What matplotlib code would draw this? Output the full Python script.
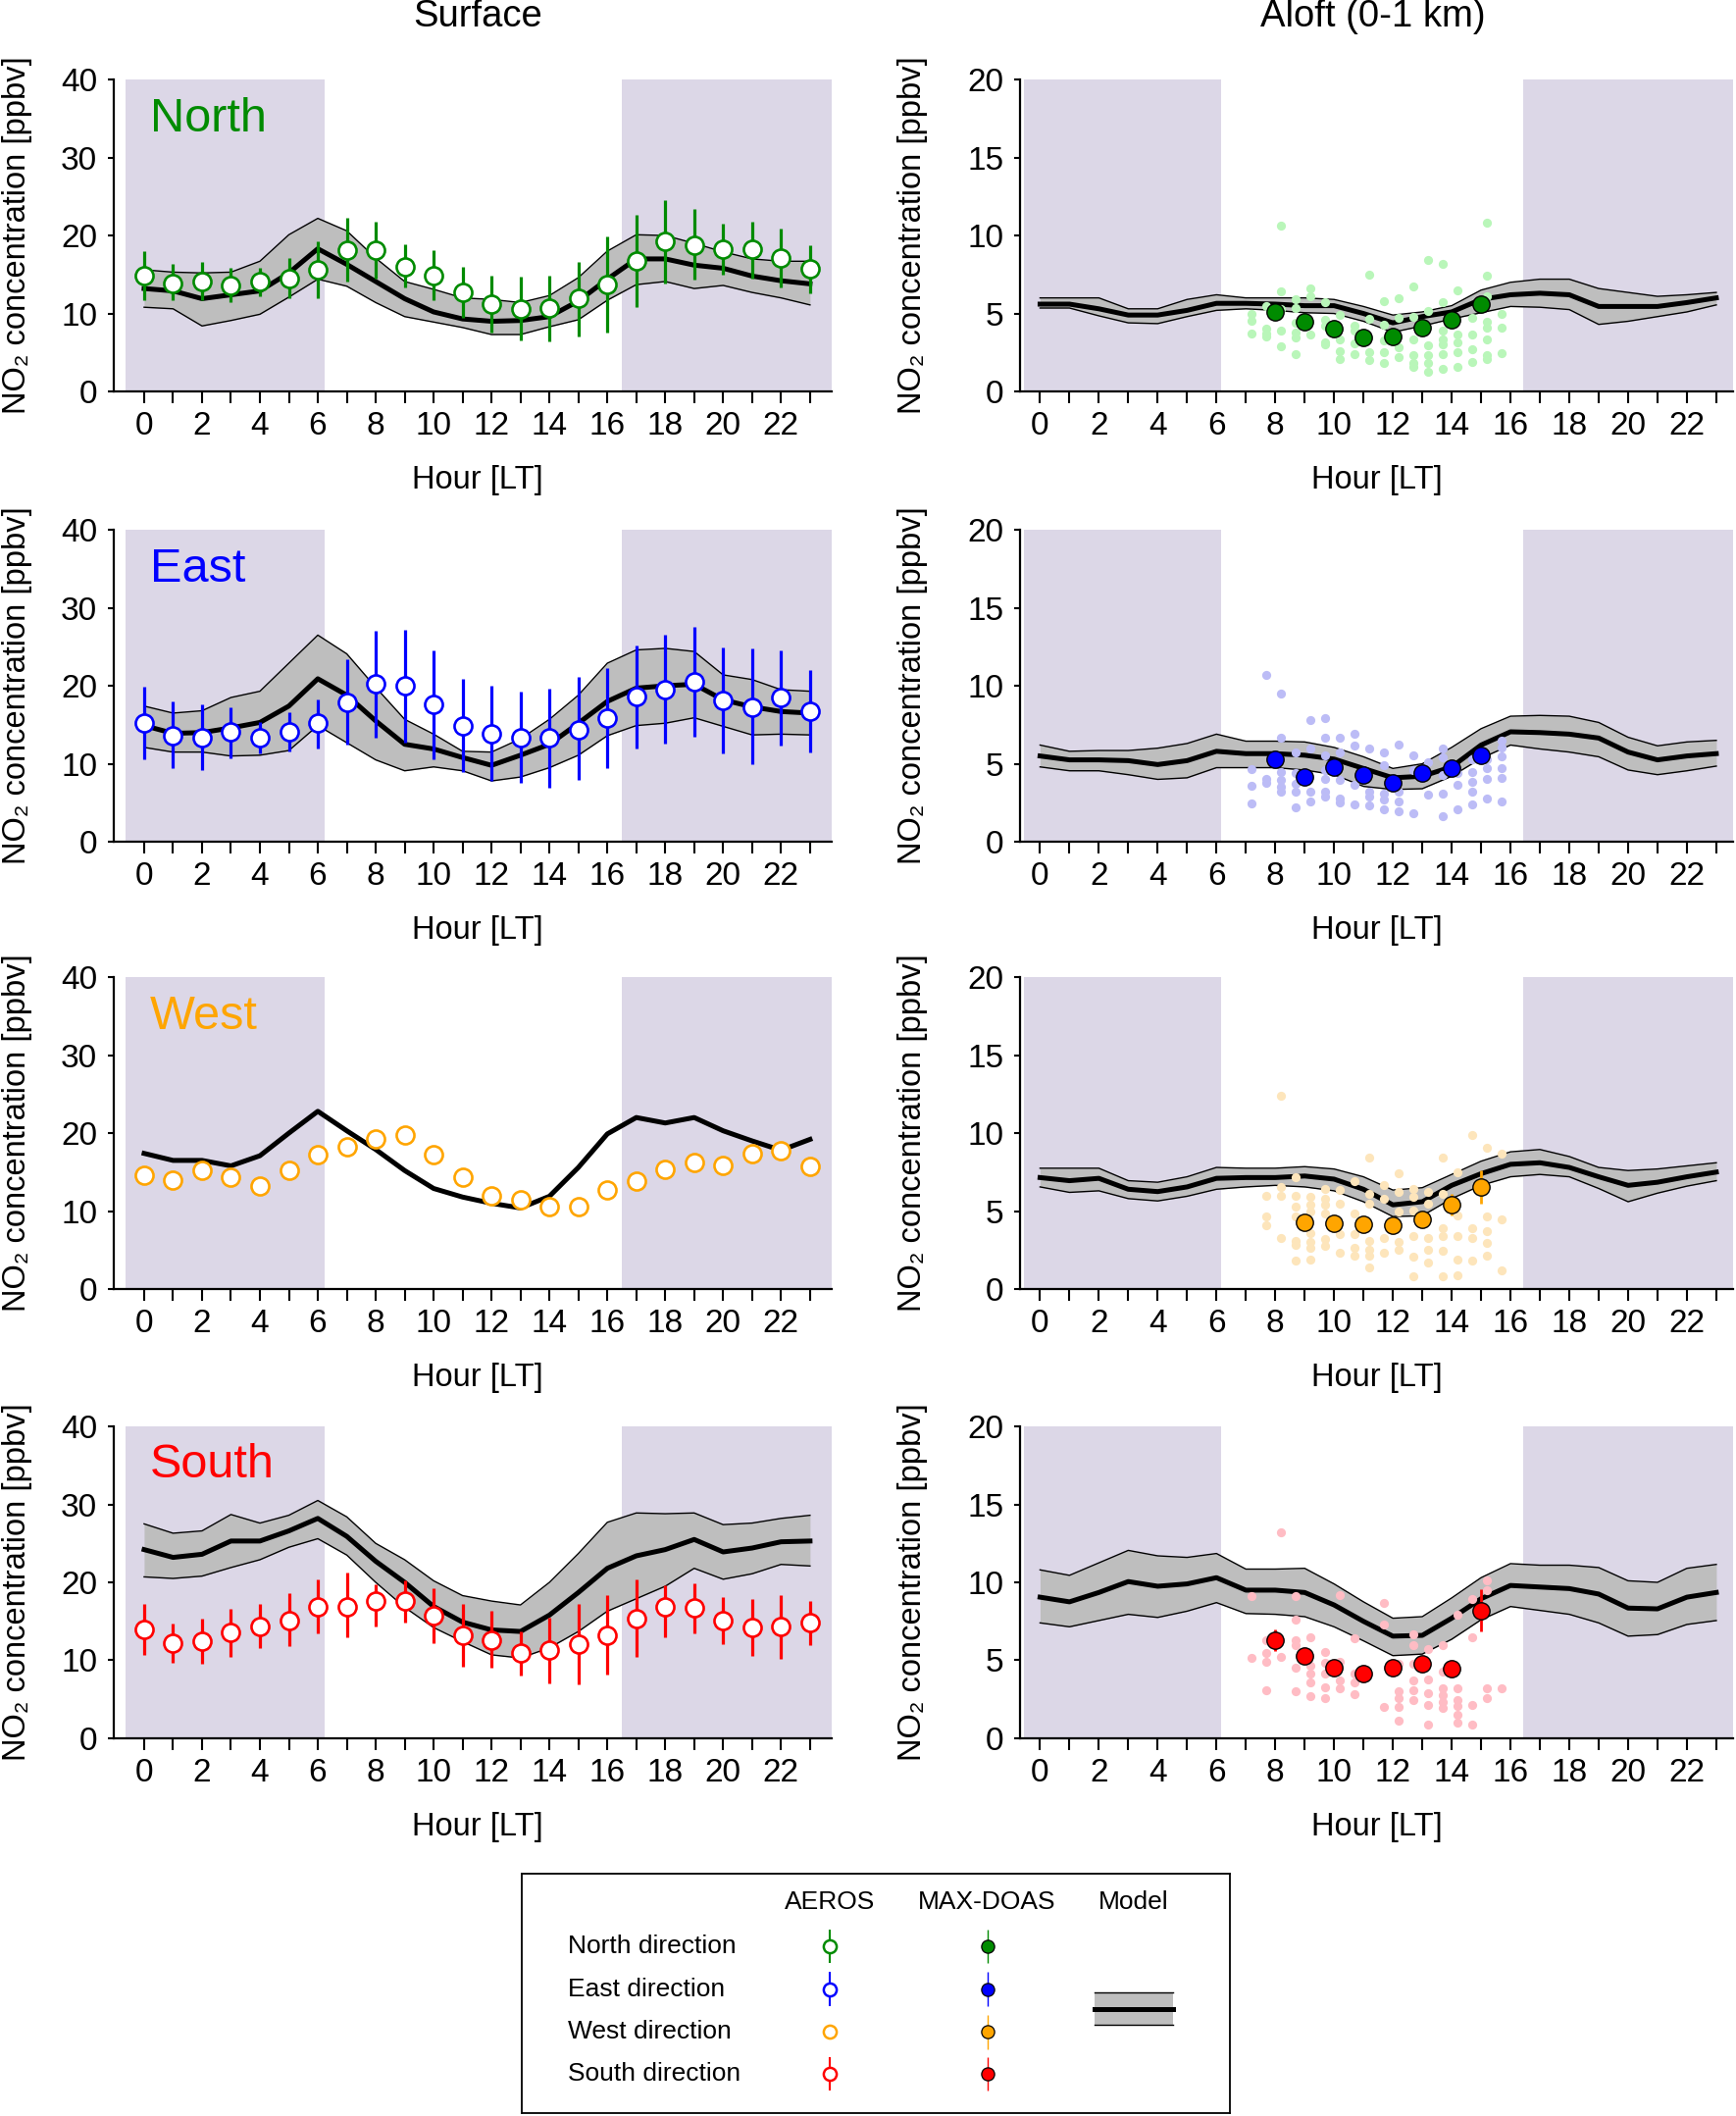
import matplotlib
matplotlib.use('Agg')
import matplotlib.pyplot as plt
import numpy as np

plt.rcParams['font.family'] = ['Liberation Sans', 'DejaVu Sans']

# ---------------- data ----------------
hours = list(range(24))
tick_labels = [str(h) if h % 2 == 0 else '' for h in hours]

# Surface: AEROS observations (mean, lower, upper)
north_aeros = [14.8, 13.9, 14.1, 13.6, 14.1, 14.5, 15.6, 18.1, 18.1, 16.0, 14.9, 12.7,
               11.2, 10.6, 10.7, 11.9, 13.7, 16.8, 19.2, 18.8, 18.3, 18.2, 17.1, 15.7]
north_aeros_lo = [11.7, 11.7, 11.7, 11.4, 12.2, 12.0, 11.9, 14.1, 14.5, 13.3, 11.7, 9.4,
                  7.6, 6.6, 6.4, 7.1, 7.6, 10.8, 13.9, 14.3, 15.0, 14.5, 13.3, 12.6]
north_aeros_hi = [18.0, 16.3, 16.6, 15.9, 15.9, 17.1, 19.2, 22.3, 21.8, 18.9, 18.1, 16.0,
                  14.9, 14.7, 14.9, 16.6, 19.9, 22.7, 24.5, 23.4, 21.5, 21.8, 20.9, 18.7]
north_sfc_model = [13.2, 12.9, 11.9, 12.4, 12.9, 15.2, 18.3, 16.3, 14.1, 11.9, 10.2, 9.3,
                   9.0, 9.1, 9.6, 11.6, 14.4, 17.0, 17.0, 16.2, 15.8, 14.8, 14.2, 13.8]
north_sfc_model_lo = [10.8, 10.6, 8.4, 9.1, 9.9, 12.1, 14.4, 13.5, 11.4, 9.6, 8.9, 8.2,
                      7.3, 7.3, 8.3, 9.2, 11.7, 13.7, 14.1, 13.2, 13.6, 12.7, 12.0, 11.1]
north_sfc_model_hi = [15.6, 15.3, 15.2, 15.3, 16.7, 20.1, 22.2, 20.6, 17.1, 14.1, 13.1, 12.0,
                      11.8, 11.4, 12.3, 14.6, 18.0, 20.1, 20.0, 19.0, 17.9, 17.0, 16.7, 16.7]

east_aeros = [15.2, 13.6, 13.4, 14.1, 13.4, 14.1, 15.2, 17.9, 20.3, 20.0, 17.6, 14.9,
              13.9, 13.4, 13.3, 14.4, 15.9, 18.6, 19.5, 20.5, 18.1, 17.3, 18.5, 16.8]
east_aeros_lo = [10.6, 9.4, 9.2, 10.7, 11.3, 11.6, 12.0, 12.5, 13.4, 12.7, 10.6, 8.9,
                 7.8, 7.6, 6.9, 7.9, 9.5, 12.0, 12.6, 13.5, 11.3, 9.9, 12.3, 11.5]
east_aeros_hi = [19.9, 18.0, 17.6, 17.3, 15.4, 16.6, 18.2, 23.4, 27.1, 27.2, 24.6, 20.9,
                 20.0, 19.2, 19.6, 21.1, 22.3, 25.2, 26.6, 27.5, 24.9, 24.8, 24.5, 22.0]
east_sfc_model = [14.9, 13.9, 14.0, 14.6, 15.3, 17.4, 20.9, 18.8, 15.5, 12.5, 11.9, 10.8,
                  9.8, 11.1, 12.5, 15.2, 18.0, 19.7, 20.0, 20.2, 18.2, 17.3, 16.7, 16.5]
east_sfc_model_lo = [12.1, 11.5, 11.5, 11.0, 11.1, 11.7, 14.9, 12.7, 10.5, 9.1, 9.6, 9.1,
                     7.8, 8.3, 9.5, 11.1, 13.6, 14.9, 15.2, 15.9, 14.8, 13.7, 13.8, 13.7]
east_sfc_model_hi = [17.4, 16.5, 16.8, 18.5, 19.3, 22.9, 26.5, 24.1, 19.8, 15.7, 13.8, 11.6,
                     11.5, 13.2, 15.7, 18.8, 22.9, 24.6, 24.8, 24.4, 21.4, 20.8, 19.5, 19.3]

west_aeros = [14.6, 14.0, 15.2, 14.4, 13.2, 15.2, 17.2, 18.3, 19.2, 19.7, 17.3, 14.4,
              11.9, 11.5, 10.6, 10.6, 12.7, 13.8, 15.3, 16.2, 15.8, 17.4, 17.8, 15.7]
west_sfc_model = [17.4, 16.5, 16.5, 15.8, 17.1, 20.0, 22.8, 20.3, 17.9, 15.2, 12.9, 11.8,
                  11.0, 10.4, 11.9, 15.6, 19.9, 22.0, 21.3, 22.0, 20.3, 19.0, 17.8, 19.2]

south_aeros = [14.0, 12.2, 12.4, 13.6, 14.4, 15.1, 16.9, 16.9, 17.6, 17.6, 15.7, 13.2,
               12.6, 10.9, 11.3, 12.1, 13.2, 15.3, 16.8, 16.7, 15.1, 14.2, 14.4, 14.8]
south_aeros_lo = [10.7, 9.7, 9.5, 10.5, 11.6, 11.8, 13.4, 13.0, 14.4, 14.9, 12.2, 9.2,
                  9.0, 8.1, 7.1, 6.9, 8.2, 10.4, 12.9, 13.4, 12.1, 10.6, 10.2, 12.0]
south_aeros_hi = [17.2, 14.7, 15.4, 16.6, 17.2, 18.6, 20.4, 21.2, 19.7, 20.3, 19.2, 17.2,
                  16.3, 13.7, 15.5, 17.2, 18.4, 20.4, 19.6, 19.9, 18.1, 17.8, 18.4, 17.6]
south_sfc_model = [24.2, 23.2, 23.6, 25.3, 25.3, 26.6, 28.2, 25.9, 22.7, 20.0, 16.9, 14.9,
                   13.9, 13.7, 15.8, 18.7, 21.8, 23.4, 24.2, 25.5, 23.9, 24.4, 25.2, 25.3]
south_sfc_model_lo = [20.7, 20.5, 20.8, 21.9, 22.9, 24.5, 25.6, 23.5, 20.0, 16.8, 14.2, 12.4,
                      10.7, 10.3, 11.6, 13.7, 16.3, 17.9, 19.5, 21.8, 20.4, 21.1, 22.3, 22.1]
south_sfc_model_hi = [27.5, 26.3, 26.6, 28.7, 27.6, 28.6, 30.5, 28.4, 25.0, 22.9, 20.2, 18.3,
                      17.6, 17.1, 20.0, 23.7, 27.7, 28.9, 28.8, 28.9, 27.4, 27.6, 28.2, 28.6]

# Aloft: model (mean, lower, upper)
north_alo_model = [5.6, 5.6, 5.3, 4.9, 4.9, 5.2, 5.65, 5.65, 5.6, 5.5, 5.5, 5.0,
                   4.4, 4.8, 5.1, 5.9, 6.2, 6.3, 6.2, 5.45, 5.45, 5.45, 5.7, 6.0]
north_alo_model_lo = [5.35, 5.35, 4.85, 4.4, 4.35, 4.8, 5.2, 5.3, 5.2, 5.05, 5.0, 4.5,
                      3.8, 4.2, 4.65, 5.05, 5.45, 5.4, 5.25, 4.3, 4.5, 4.8, 5.1, 5.55]
north_alo_model_hi = [6.0, 6.0, 6.0, 5.3, 5.3, 5.9, 6.2, 6.0, 6.0, 6.0, 5.9, 5.45,
                      4.9, 5.1, 5.5, 6.5, 7.0, 7.2, 7.2, 6.6, 6.35, 6.1, 6.2, 6.35]
east_alo_model = [5.5, 5.25, 5.25, 5.2, 4.95, 5.2, 5.8, 5.65, 5.65, 5.55, 5.3, 4.7,
                  4.1, 4.2, 4.8, 6.2, 7.05, 7.0, 6.9, 6.65, 5.75, 5.25, 5.5, 5.65]
east_alo_model_lo = [4.8, 4.55, 4.55, 4.3, 4.0, 4.1, 4.75, 4.75, 4.75, 4.6, 4.3, 3.55,
                     3.35, 3.4, 4.2, 5.35, 6.2, 5.95, 5.75, 5.45, 4.6, 4.3, 4.55, 4.85]
east_alo_model_hi = [6.2, 5.8, 5.85, 5.85, 6.0, 6.3, 6.9, 6.45, 6.45, 6.4, 6.05, 5.45,
                     4.7, 5.0, 6.05, 7.25, 8.05, 8.1, 8.05, 7.65, 6.7, 6.15, 6.4, 6.5]
west_alo_model = [7.15, 6.95, 7.1, 6.4, 6.25, 6.55, 7.1, 7.15, 7.15, 7.25, 7.05, 6.4,
                  5.4, 5.6, 6.65, 7.4, 8.0, 8.1, 7.8, 7.2, 6.65, 6.85, 7.2, 7.5]
west_alo_model_lo = [6.55, 6.2, 6.3, 5.8, 5.65, 5.95, 6.4, 6.55, 6.65, 6.55, 6.3, 5.6,
                     4.65, 4.7, 5.8, 6.65, 7.2, 7.35, 7.2, 6.45, 5.6, 6.15, 6.6, 6.95]
west_alo_model_hi = [7.75, 7.75, 7.75, 6.95, 6.85, 7.2, 7.8, 7.75, 7.75, 7.85, 7.7, 7.2,
                     6.35, 6.5, 7.35, 8.2, 8.8, 8.95, 8.5, 7.8, 7.6, 7.7, 7.9, 8.1]
south_alo_model = [9.05, 8.75, 9.35, 10.05, 9.75, 9.9, 10.3, 9.5, 9.5, 9.35, 8.55, 7.5,
                   6.55, 6.6, 7.7, 8.95, 9.8, 9.7, 9.6, 9.25, 8.35, 8.3, 9.05, 9.35]
south_alo_model_lo = [7.4, 7.15, 7.55, 7.95, 7.75, 8.15, 8.7, 8.0, 7.95, 7.8, 7.15, 6.25,
                      5.3, 5.4, 6.35, 7.6, 8.45, 8.2, 7.95, 7.4, 6.55, 6.65, 7.3, 7.55]
south_alo_model_hi = [10.8, 10.45, 11.25, 12.05, 11.7, 11.6, 11.85, 10.85, 10.85, 10.9, 9.9, 8.75,
                      7.7, 7.8, 9.0, 10.3, 11.2, 11.1, 11.1, 10.95, 10.1, 10.0, 10.9, 11.15]

# Aloft: MAX-DOAS hourly means and error half-widths
north_doas_hours = [8, 9, 10, 11, 12, 13, 14, 15]
north_doas = [5.1, 4.5, 4.03, 3.46, 3.5, 4.09, 4.57, 5.62]
north_doas_err = [0.3, 0.3, 0.3, 0.3, 0.3, 0.3, 0.3, 0.4]
east_doas_hours = [8, 9, 10, 11, 12, 13, 14, 15]
east_doas = [5.26, 4.17, 4.8, 4.28, 3.8, 4.42, 4.74, 5.53]
east_doas_err = [0.4, 0.3, 0.3, 0.3, 0.3, 0.3, 0.3, 0.3]
west_doas_hours = [9, 10, 11, 12, 13, 14, 15]
west_doas = [4.3, 4.23, 4.17, 4.09, 4.44, 5.39, 6.54]
west_doas_err = [0.3, 0.3, 0.3, 0.3, 0.3, 0.7, 1.05]
south_doas_hours = [8, 9, 10, 11, 12, 13, 14, 15]
south_doas = [6.3, 5.3, 4.5, 4.15, 4.5, 4.8, 4.45, 8.2]
south_doas_err = [0.7, 0.3, 0.3, 0.3, 0.3, 0.4, 0.3, 1.35]

# Aloft: individual MAX-DOAS retrievals (half-hour columns)
doas_times = [7.2, 7.7, 8.2, 8.7, 9.2, 9.7, 10.2, 10.7, 11.2,
              11.7, 12.2, 12.7, 13.2, 13.7, 14.2, 14.7, 15.2, 15.7]
north_doas_pts = [
    [5.0, 4.55, 3.7], [5.45, 4.0, 3.7, 3.5], [10.65, 6.4, 5.3, 3.9, 2.9],
    [5.9, 5.35, 4.4, 3.8, 3.45, 2.4], [6.6, 6.1, 3.65], [5.75, 4.6, 4.2, 3.15, 3.0],
    [4.9, 3.35, 2.6, 2.1], [4.2, 3.9, 3.1, 2.4], [7.5, 4.65, 2.5, 2.0],
    [5.8, 4.3, 3.25, 2.5, 1.8], [6.0, 4.7, 2.85, 2.2], [6.75, 4.8, 3.35, 2.3, 1.8, 1.55],
    [8.45, 5.15, 2.95, 2.3, 1.8, 1.25], [8.2, 5.75, 3.9, 3.35, 3.05, 2.4, 1.45],
    [6.5, 3.65, 3.15, 2.5, 1.55], [4.7, 3.65, 2.7, 1.9],
    [10.8, 7.45, 6.1, 4.5, 4.1, 3.35, 2.35, 2.1], [5.0, 4.1, 2.45]]
east_doas_pts = [
    [4.65, 3.6, 2.45], [10.67, 4.05, 3.8], [9.5, 6.7, 4.5, 3.95, 3.55, 3.2],
    [5.75, 4.4, 3.7, 3.2, 2.2], [7.8, 5.95, 3.2, 2.6], [7.95, 6.7, 5.55, 4.6, 4.05, 3.2, 2.9],
    [6.7, 5.75, 3.95, 2.8, 2.5], [6.9, 6.15, 3.65, 2.4], [5.95, 3.2, 2.9, 2.3],
    [5.75, 4.9, 3.1, 2.7, 2.05], [6.2, 3.2, 2.6, 1.95], [5.55, 4.6, 1.85],
    [5.1, 3.0], [5.95, 5.4, 4.3, 3.1, 1.65], [4.4, 3.65, 2.05],
    [5.3, 4.5, 3.85, 3.2, 2.4], [5.3, 4.7, 4.05, 2.75], [6.5, 6.05, 5.45, 4.75, 4.1, 2.6]]
west_doas_pts = [
    [], [6.0, 4.65, 4.1], [12.4, 6.55, 6.0, 3.25],
    [7.15, 6.0, 5.3, 4.65, 3.1, 2.85, 1.8], [5.9, 5.4, 4.95, 3.6, 3.05, 2.65, 1.9],
    [6.45, 5.8, 5.4, 4.85, 3.2, 2.75], [6.35, 5.5, 3.5, 2.35], [6.95, 4.85, 3.5, 2.65, 2.15],
    [8.45, 6.1, 5.5, 3.1, 2.55, 2.15, 1.4], [6.65, 5.8, 3.3, 2.35], [7.4, 6.25, 4.95, 3.0, 2.55],
    [6.45, 5.9, 5.05, 3.4, 2.05, 0.8], [6.25, 5.5, 3.3, 2.55, 1.7], [8.45, 6.1, 3.9, 3.4, 2.45, 0.8],
    [7.5, 4.75, 3.4, 1.9, 0.9], [9.9, 3.9, 3.3, 1.8], [9.05, 4.65, 3.7, 2.95, 2.15], [8.7, 4.45, 1.2]]
south_doas_pts = [
    [9.1, 5.15], [6.3, 5.45, 4.9, 3.1], [13.2, 5.2], [9.1, 7.6, 6.3, 5.95, 4.55, 3.0],
    [6.5, 4.65, 4.15, 3.6, 2.7], [5.55, 4.85, 4.15, 3.25, 2.6], [9.2, 4.9, 3.7, 3.2],
    [6.4, 4.15, 3.6, 2.85], [], [8.65, 7.3, 2.0], [4.8, 3.0, 2.55, 2.0, 1.15],
    [6.65, 6.0, 4.75, 3.7, 3.05, 2.45], [5.7, 3.75, 2.9, 2.15, 0.9],
    [5.95, 4.25, 3.2, 2.75, 2.35, 1.95], [7.95, 3.2, 2.45, 2.05, 1.5, 1.0],
    [8.95, 6.5, 2.15, 0.9], [10.1, 9.5, 3.2, 2.55], [3.2]]

directions = ['North', 'East', 'West', 'South']
dir_colors = ['#008b00', '#0000ff', '#ffa500', '#ff0000']
light_colors = ['#b9f6b9', '#bcbcf6', '#fde5bb', '#ffbcc4']

# ---------------- style ----------------
NIGHT = '#dcd7e7'
BAND = '#bebebe'
TFS = 24      # tick labels
LABFS = 23.5  # axis labels

fig = plt.figure(figsize=(17.7, 21.57), dpi=100)

row_bottoms = [0.815, 0.6022, 0.3908, 0.1785]
H = 0.1474
LEFT = (0.0655, 0.4136)
RIGHT = (0.5876, 0.4107)


def style_axes(ax, yticks, xlim):
    ax.set_xlim(*xlim)
    ax.set_ylim(yticks[0], yticks[-1])
    for s in ['top', 'right']:
        ax.spines[s].set_visible(False)
    for s in ['left', 'bottom']:
        ax.spines[s].set_linewidth(1.6)
    ax.set_xticks(hours)
    ax.set_xticklabels(tick_labels)
    ax.set_yticks(yticks)
    ax.tick_params(axis='x', direction='out', length=8.6, width=1.5, pad=6, labelsize=TFS)
    ax.tick_params(axis='y', direction='out', length=4, width=1.5, pad=8, labelsize=TFS)
    ax.set_xlabel('Hour [LT]', fontsize=LABFS)
    ax.set_ylabel('NO\u2082 concentration [ppbv]', fontsize=LABFS)


surface_data = [
    (north_aeros, north_aeros_lo, north_aeros_hi, north_sfc_model, north_sfc_model_lo, north_sfc_model_hi),
    (east_aeros, east_aeros_lo, east_aeros_hi, east_sfc_model, east_sfc_model_lo, east_sfc_model_hi),
    (west_aeros, None, None, west_sfc_model, None, None),
    (south_aeros, south_aeros_lo, south_aeros_hi, south_sfc_model, south_sfc_model_lo, south_sfc_model_hi),
]
aloft_data = [
    (north_alo_model, north_alo_model_lo, north_alo_model_hi, north_doas_hours, north_doas, north_doas_err, north_doas_pts),
    (east_alo_model, east_alo_model_lo, east_alo_model_hi, east_doas_hours, east_doas, east_doas_err, east_doas_pts),
    (west_alo_model, west_alo_model_lo, west_alo_model_hi, west_doas_hours, west_doas, west_doas_err, west_doas_pts),
    (south_alo_model, south_alo_model_lo, south_alo_model_hi, south_doas_hours, south_doas, south_doas_err, south_doas_pts),
]

for i in range(4):
    col = dir_colors[i]
    # ---- surface ----
    ax = fig.add_axes([LEFT[0], row_bottoms[i], LEFT[1], H])
    xl = (-1.05, 23.75)
    style_axes(ax, [0, 10, 20, 30, 40], xl)
    ax.xaxis.set_label_coords(0.507, -0.235)
    ax.yaxis.set_label_coords(-0.113, 0.5)
    ax.axvspan(-0.63, 6.25, color=NIGHT, lw=0, zorder=0)
    ax.axvspan(16.5, xl[1], color=NIGHT, lw=0, zorder=0)
    obs, lo, hi, mod, mlo, mhi = surface_data[i]
    if mlo is not None:
        ax.fill_between(hours, mlo, mhi, color=BAND, lw=0, zorder=1)
        ax.plot(hours, mlo, color='k', lw=1.0, zorder=2)
        ax.plot(hours, mhi, color='k', lw=1.0, zorder=2)
    ax.plot(hours, mod, color='k', lw=3.6, zorder=3, solid_joinstyle='round')
    if lo is not None:
        o = np.array(obs)
        yerr = [o - np.array(lo), np.array(hi) - o]
        ax.errorbar(hours, obs, yerr=yerr, fmt='none', ecolor=col, elinewidth=2.3, capsize=0, zorder=4)
    ax.plot(hours, obs, 'o', ms=13, mfc='white', mec=col, mew=1.9, zorder=5)
    ax.text(0.05, 0.835, directions[i], transform=ax.transAxes, color=col,
            fontsize=35, va='baseline', ha='left')

    # ---- aloft ----
    ax = fig.add_axes([RIGHT[0], row_bottoms[i], RIGHT[1], H])
    xl = (-0.68, 23.57)
    style_axes(ax, [0, 5, 10, 15, 20], xl)
    ax.xaxis.set_label_coords(0.5, -0.235)
    ax.yaxis.set_label_coords(-0.129, 0.5)
    ax.axvspan(-0.55, 6.17, color=NIGHT, lw=0, zorder=0)
    ax.axvspan(16.43, xl[1], color=NIGHT, lw=0, zorder=0)
    mod, mlo, mhi, dh, dv, de, pts = aloft_data[i]
    ax.fill_between(hours, mlo, mhi, color=BAND, lw=0, zorder=1)
    ax.plot(hours, mlo, color='k', lw=1.0, zorder=2)
    ax.plot(hours, mhi, color='k', lw=1.0, zorder=2)
    ax.plot(hours, mod, color='k', lw=3.6, zorder=3, solid_joinstyle='round')
    sx, sy = [], []
    for t, vals in zip(doas_times, pts):
        sx += [t] * len(vals)
        sy += vals
    ax.scatter(sx, sy, s=44, color=light_colors[i], lw=0, zorder=4)
    ax.errorbar(dh, dv, yerr=de, fmt='none', ecolor=col, elinewidth=2.0, capsize=0, zorder=5)
    ax.plot(dh, dv, 'o', ms=12.5, mfc=col, mec='k', mew=1.0, zorder=6)

fig.text(0.275, 0.9923, 'Surface', fontsize=27.5, ha='center', va='center')
fig.text(0.791, 0.9923, 'Aloft (0-1 km)', fontsize=27.5, ha='center', va='center')

# ---------------- legend panel ----------------
lax = fig.add_axes([0.3006, 0.0012, 0.408, 0.1131])
lax.set_xlim(0, 1)
lax.set_ylim(0, 1)
lax.set_xticks([])
lax.set_yticks([])
for s in lax.spines.values():
    s.set_linewidth(1.3)
LFS = 19
lax.text(0.435, 0.885, 'AEROS', fontsize=LFS, ha='center', va='center')
lax.text(0.657, 0.885, 'MAX-DOAS', fontsize=LFS, ha='center', va='center')
lax.text(0.863, 0.885, 'Model', fontsize=LFS, ha='center', va='center')
row_y = [0.70, 0.52, 0.34, 0.164]
for i in range(4):
    y = row_y[i]
    col = dir_colors[i]
    lax.text(0.065, y, directions[i] + ' direction', fontsize=LFS, ha='left', va='center')
    if i != 2:
        lax.errorbar([0.435], [y], yerr=[0.07], fmt='none', ecolor=col, elinewidth=1.5, capsize=0)
    lax.plot([0.435], [y], 'o', ms=9.5, mfc='white', mec=col, mew=1.8)
    lax.errorbar([0.657], [y], yerr=[0.07], fmt='none', ecolor=col, elinewidth=1.0, capsize=0)
    lax.plot([0.657], [y], 'o', ms=9.5, mfc=col, mec='k', mew=0.9)
lax.fill_between([0.809, 0.92], [0.369, 0.369], [0.504, 0.504], color=BAND, lw=0)
lax.plot([0.809, 0.92], [0.369, 0.369], color='k', lw=1.0)
lax.plot([0.809, 0.92], [0.504, 0.504], color='k', lw=1.0)
lax.plot([0.809, 0.92], [0.437, 0.437], color='k', lw=3.6)

fig.savefig('out.png', dpi=100)
